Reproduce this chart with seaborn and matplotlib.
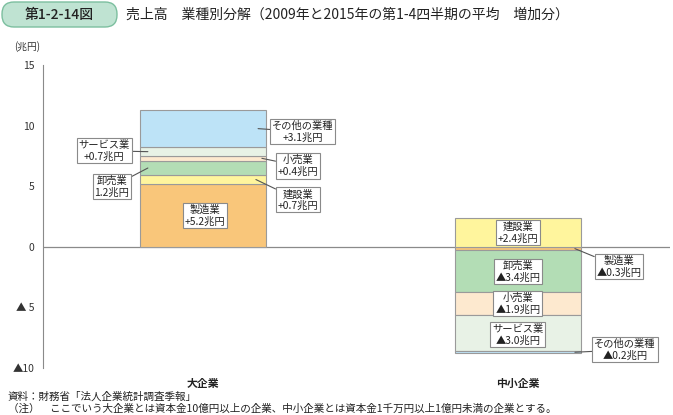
import matplotlib
matplotlib.use('Agg')
import matplotlib.pyplot as plt
from matplotlib.patches import FancyBboxPatch
import seaborn as sns

# data
companies = ['大企業', '中小企業']
industries = ['製造業', '建設業', '卸売業', '小売業', 'サービス業', 'その他の業種']
large_vals = [5.2, 0.7, 1.2, 0.4, 0.7, 3.1]
sme_vals = [-0.3, 2.4, -3.4, -1.9, -3.0, -0.2]
colors = ['#f9c67a', '#fff59d', '#b3ddb5', '#fde9cf', '#e8f2e6', '#bde3f7']
y_ticks = [-10, -5, 0, 5, 10, 15]
y_ticklabels = ['▲10', '▲ 5', '0', '5', '10', '15']

large_labels = ['製造業\n+5.2兆円', '建設業\n+0.7兆円', '卸売業\n1.2兆円',
                '小売業\n+0.4兆円', 'サービス業\n+0.7兆円', 'その他の業種\n+3.1兆円']
sme_labels = ['製造業\n▲0.3兆円', '建設業\n+2.4兆円', '卸売業\n▲3.4兆円',
              '小売業\n▲1.9兆円', 'サービス業\n▲3.0兆円', 'その他の業種\n▲0.2兆円']

sns.set_style('white')
plt.rcParams['font.family'] = ['Noto Sans CJK JP', 'DejaVu Sans']

fig = plt.figure(figsize=(6.73, 4.15), dpi=100)
ax = fig.add_axes([43 / 673, 1 - 368 / 415, 627 / 673, 303 / 415])

# stacked bars: positives go up, negatives go down
pos = [0.0, 0.0]
neg = [0.0, 0.0]
mids = []
for i, ind in enumerate(industries):
    vals = [large_vals[i], sme_vals[i]]
    bottoms = []
    for j, v in enumerate(vals):
        if v >= 0:
            bottoms.append(pos[j])
            pos[j] += v
        else:
            bottoms.append(neg[j])
            neg[j] += v
    mids.append([b + v / 2 for b, v in zip(bottoms, vals)])
    sns.barplot(x=companies, y=vals, bottom=bottoms, color=colors[i], width=0.4,
                edgecolor='#9a9a9a', linewidth=0.8, saturation=1, ax=ax, zorder=2)

ax.axhline(0, color='#8a8a8a', lw=0.9, zorder=1)

# label boxes: (text x, text y, pointer x or None)
large_pos = [(0.006, 2.56, None), (0.302, 3.88, 0.168), (-0.289, 4.95, -0.175),
             (0.302, 6.68, 0.187), (-0.314, 7.92, -0.175), (0.317, 9.49, 0.175)]
sme_pos = [(1.321, -1.65, 1.181), (1.0, 1.16, None), (1.0, -2.06, None),
           (1.0, -4.70, None), (1.0, -7.26, None), (1.34, -8.50, 1.181)]

box = dict(boxstyle='square,pad=0.18', fc='white', ec='#8a8a8a', lw=0.8)
for j, (labels, places) in enumerate([(large_labels, large_pos), (sme_labels, sme_pos)]):
    for i, (txt, (tx, ty, px)) in enumerate(zip(labels, places)):
        if px is None:
            ax.text(tx, ty, txt, ha='center', va='center', fontsize=7.4,
                    linespacing=1.15, bbox=box, zorder=5, color='#222222')
        else:
            ax.annotate(txt, xy=(px, mids[i][j]), xytext=(tx, ty),
                        ha='center', va='center', fontsize=7.4, linespacing=1.15,
                        bbox=box, zorder=5, color='#222222',
                        arrowprops=dict(arrowstyle='-', color='#555555', lw=0.8,
                                        shrinkA=0, shrinkB=0))

ax.set_xlim(-0.508, 1.483)
ax.set_ylim(-10, 15)
ax.set_yticks(y_ticks)
ax.set_yticklabels(y_ticklabels, fontsize=7.5, color='#333333')
ax.tick_params(axis='y', direction='in', length=4, width=0.8, color='#8a8a8a', pad=6)
ax.tick_params(axis='x', length=0, pad=8)
for lab in ax.get_xticklabels():
    lab.set_fontweight('bold')
    lab.set_fontsize(7.8)
    lab.set_color('#222222')
ax.set_xlabel('')
ax.set_ylabel('')
for s in ['top', 'right', 'bottom']:
    ax.spines[s].set_visible(False)
ax.spines['left'].set_color('#8a8a8a')
ax.spines['left'].set_linewidth(0.8)
ax.patch.set_alpha(0)

# header
hdr = fig.add_axes([0, 0, 1, 1], zorder=-1)
hdr.set_xlim(0, 673)
hdr.set_ylim(415, 0)
hdr.axis('off')
hdr.add_patch(FancyBboxPatch((2, 2), 115, 25, boxstyle='round,pad=0,rounding_size=12',
                             fc='#bfe3d2', ec='#7cbf9f', lw=1))
fig.text(59 / 673, 1 - 15 / 415, '第1-2-14図', ha='center', va='center',
         fontsize=10, color='#222222', fontweight='medium')
fig.text(126 / 673, 1 - 15 / 415, '売上高　業種別分解（2009年と2015年の第1-4四半期の平均　増加分）',
         ha='left', va='center', fontsize=10, color='#222222')
fig.text(14 / 673, 1 - 47 / 415, '(兆円)', ha='left', va='center', fontsize=7,
         color='#333333')
fig.text(8 / 673, 1 - 397 / 415, '資料：財務省「法人企業統計調査季報」', ha='left',
         va='center', fontsize=7.6, color='#222222')
fig.text(8 / 673, 1 - 409 / 415,
         '（注）　ここでいう大企業とは資本金10億円以上の企業、中小企業とは資本金1千万円以上1億円未満の企業とする。',
         ha='left', va='center', fontsize=7.6, color='#222222')

fig.savefig('out.png', dpi=100)
